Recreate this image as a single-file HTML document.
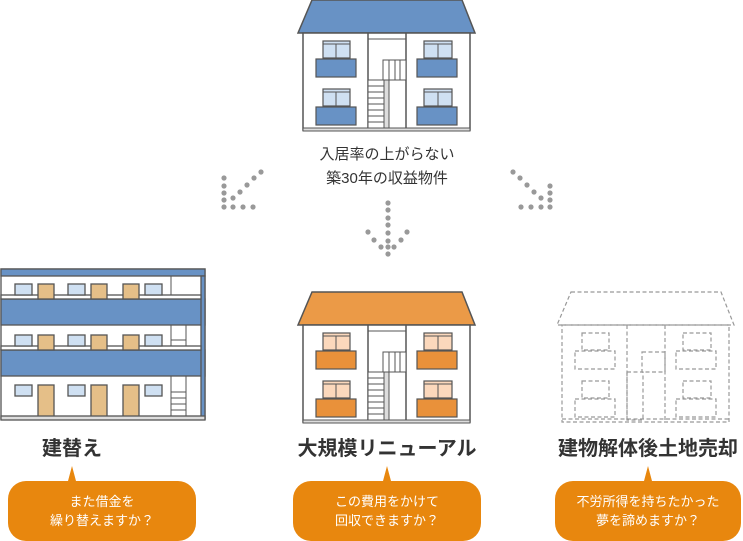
<!DOCTYPE html>
<html><head><meta charset="utf-8"><style>
html,body{margin:0;padding:0;background:#fff;}
svg{display:block;font-family:"Liberation Sans","Noto Sans CJK JP",sans-serif;}
</style></head><body>
<svg width="743" height="541" viewBox="0 0 743 541" xmlns="http://www.w3.org/2000/svg">
<defs>
<g id="house">
  <polygon points="312,0 462,0 475,33 298,33" fill="var(--roof)" stroke="#555" stroke-width="1.5"/>
  <rect x="303" y="33" width="167" height="97" fill="#fff" stroke="#555" stroke-width="1.5"/>
  <line x1="368" y1="33" x2="368" y2="130" stroke="#555" stroke-width="1.5"/>
  <line x1="406" y1="33" x2="406" y2="130" stroke="#555" stroke-width="1.5"/>
  <line x1="368" y1="39" x2="406" y2="39" stroke="#555"/>
  <rect x="383" y="60" width="23" height="20" fill="#fff" stroke="#555"/>
  <line x1="389" y1="60" x2="389" y2="80" stroke="#555"/><line x1="395" y1="60" x2="395" y2="80" stroke="#555"/><line x1="400" y1="60" x2="400" y2="80" stroke="#555"/>
  <rect x="368" y="80" width="16" height="48" fill="#fff" stroke="#555"/>
  <g stroke="#555"><line x1="368" y1="86" x2="384" y2="86"/><line x1="368" y1="92" x2="384" y2="92"/><line x1="368" y1="98" x2="384" y2="98"/><line x1="368" y1="104" x2="384" y2="104"/><line x1="368" y1="110" x2="384" y2="110"/><line x1="368" y1="116" x2="384" y2="116"/><line x1="368" y1="122" x2="384" y2="122"/></g>
  <rect x="384" y="80" width="5" height="48" fill="#ddd" stroke="#555"/>
  <g fill="var(--win)" stroke="#555" stroke-width="1.2">
   <rect x="323" y="41" width="27" height="17"/><rect x="424" y="41" width="28" height="17"/>
   <rect x="323" y="89" width="27" height="17"/><rect x="424" y="89" width="28" height="17"/>
  </g>
  <g stroke="#555"><line x1="336" y1="44" x2="336" y2="58"/><line x1="438" y1="44" x2="438" y2="58"/><line x1="336" y1="92" x2="336" y2="106"/><line x1="438" y1="92" x2="438" y2="106"/>
  <line x1="323" y1="44" x2="350" y2="44"/><line x1="424" y1="44" x2="452" y2="44"/><line x1="323" y1="92" x2="350" y2="92"/><line x1="424" y1="92" x2="452" y2="92"/></g>
  <g fill="var(--bal)" stroke="#555" stroke-width="1.2">
   <rect x="316" y="59" width="40" height="18"/><rect x="417" y="59" width="40" height="18"/>
   <rect x="316" y="107" width="40" height="18"/><rect x="417" y="107" width="40" height="18"/>
  </g>
  <rect x="303" y="128" width="167" height="3" fill="#ddd" stroke="#555"/>
</g>
</defs>

<use href="#house" style="--roof:#6892c5;--win:#cfe0f2;--bal:#6892c5"/>
<use href="#house" y="292" style="--roof:#eb9a47;--win:#fbd8bc;--bal:#e9913a"/>

<!-- dashed house -->
<g transform="translate(259,292)" fill="none" stroke="#999" stroke-width="1.2" stroke-dasharray="4,2.5">
  <polygon points="312,0 462,0 475,33 298,33"/>
  <rect x="303" y="33" width="167" height="97"/>
  <line x1="368" y1="33" x2="368" y2="130"/><line x1="406" y1="33" x2="406" y2="130"/>
  <rect x="383" y="60" width="23" height="20"/><rect x="368" y="80" width="16" height="48"/>
  <rect x="323" y="41" width="27" height="17"/><rect x="424" y="41" width="28" height="17"/>
  <rect x="323" y="89" width="27" height="17"/><rect x="424" y="89" width="28" height="17"/>
  <rect x="316" y="59" width="40" height="18"/><rect x="417" y="59" width="40" height="18"/>
  <rect x="316" y="107" width="40" height="18"/><rect x="417" y="107" width="40" height="18"/>
  <line x1="303" y1="127" x2="470" y2="127"/>
</g>

<!-- left apartment -->
<g stroke="#555" stroke-width="1.3">
  <rect x="1" y="269" width="204" height="150" fill="#fff"/>
  <g stroke-width="1"><line x1="171" y1="276" x2="171" y2="419"/><line x1="171" y1="392" x2="186" y2="392"/><line x1="171" y1="398" x2="186" y2="398"/><line x1="171" y1="404" x2="186" y2="404"/><line x1="171" y1="410" x2="186" y2="410"/><line x1="186" y1="376" x2="186" y2="416"/><line x1="186" y1="325" x2="186" y2="346"/><line x1="171" y1="340" x2="186" y2="340"/></g>
  <rect x="1" y="269" width="204" height="7" fill="#6892c5"/>
  <rect x="1" y="299" width="204" height="26" fill="#6892c5"/>
  <rect x="1" y="350" width="204" height="26" fill="#6892c5"/>
  <rect x="201" y="276" width="4" height="143" fill="#6892c5"/>
  <g fill="#fff"><rect x="1" y="295" width="200" height="4"/><rect x="1" y="346" width="200" height="4"/></g>
  <g fill="#cfe0f2">
   <rect x="15" y="284" width="17" height="11"/><rect x="68" y="284" width="17" height="11"/><rect x="145" y="284" width="17" height="11"/>
   <rect x="15" y="335" width="17" height="11"/><rect x="68" y="335" width="17" height="11"/><rect x="145" y="335" width="17" height="11"/>
   <rect x="15" y="385" width="17" height="11"/><rect x="68" y="385" width="17" height="11"/><rect x="145" y="385" width="17" height="11"/>
  </g>
  <g fill="#e5bf88">
   <rect x="38" y="284" width="16" height="15"/><rect x="91" y="284" width="16" height="15"/><rect x="123" y="284" width="16" height="15"/>
   <rect x="38" y="335" width="16" height="15"/><rect x="91" y="335" width="16" height="15"/><rect x="123" y="335" width="16" height="15"/>
   <rect x="38" y="385" width="16" height="34"/><rect x="91" y="385" width="16" height="34"/><rect x="123" y="385" width="16" height="34"/>
  </g>
  <rect x="1" y="416" width="204" height="4" fill="#ddd"/>
</g>

<!-- dotted arrows -->
<g fill="#999">
  <circle cx="261" cy="172" r="2.6"/><circle cx="254" cy="178" r="2.6"/><circle cx="247" cy="185" r="2.6"/><circle cx="240" cy="192" r="2.6"/><circle cx="233" cy="198" r="2.6"/>
  <circle cx="224" cy="178" r="2.6"/><circle cx="224" cy="186" r="2.6"/><circle cx="224" cy="193" r="2.6"/><circle cx="224" cy="200" r="2.6"/>
  <circle cx="224" cy="207" r="2.6"/><circle cx="233" cy="207" r="2.6"/><circle cx="243" cy="207" r="2.6"/><circle cx="253" cy="207" r="2.6"/>
  <circle cx="513" cy="172" r="2.6"/><circle cx="520" cy="178" r="2.6"/><circle cx="527" cy="185" r="2.6"/><circle cx="534" cy="192" r="2.6"/><circle cx="541" cy="198" r="2.6"/>
  <circle cx="550" cy="186" r="2.6"/><circle cx="550" cy="193" r="2.6"/><circle cx="550" cy="200" r="2.6"/>
  <circle cx="550" cy="207" r="2.6"/><circle cx="541" cy="207" r="2.6"/><circle cx="531" cy="207" r="2.6"/><circle cx="521" cy="207" r="2.6"/>
  <circle cx="388" cy="203" r="2.6"/><circle cx="388" cy="210" r="2.6"/><circle cx="388" cy="218" r="2.6"/><circle cx="388" cy="225" r="2.6"/><circle cx="388" cy="233" r="2.6"/><circle cx="388" cy="241" r="2.6"/><circle cx="388" cy="247" r="2.6"/><circle cx="388" cy="254" r="2.6"/>
  <circle cx="368" cy="232" r="2.6"/><circle cx="407" cy="232" r="2.6"/><circle cx="374" cy="240" r="2.6"/><circle cx="401" cy="240" r="2.6"/><circle cx="381" cy="247" r="2.6"/><circle cx="394" cy="247" r="2.6"/>
</g>

<g fill="#333" font-size="15" text-anchor="middle">
  <text x="387" y="159">入居率の上がらない</text>
  <text x="387" y="183">築30年の収益物件</text>
</g>
<g fill="#333" font-size="20" text-anchor="middle" font-weight="bold">
  <text x="72" y="455">建替え</text>
  <text x="387" y="455">大規模リニューアル</text>
  <text x="648" y="455">建物解体後土地売却</text>
</g>

<g fill="#e8870e">
  <rect x="8" y="481" width="188" height="60" rx="18"/><polygon points="68,481 72,466 76,481"/>
  <rect x="293" y="481" width="188" height="60" rx="18"/><polygon points="383,481 387,466 391,481"/>
  <rect x="555" y="481" width="186" height="60" rx="18"/><polygon points="644,481 648,466 652,481"/>
</g>
<g fill="#fff" font-size="13" text-anchor="middle">
  <text x="102" y="506">また借金を</text><text x="102" y="525">繰り替えますか？</text>
  <text x="387" y="506">この費用をかけて</text><text x="387" y="525">回収できますか？</text>
  <text x="648" y="506">不労所得を持ちたかった</text><text x="648" y="525">夢を諦めますか？</text>
</g>
</svg>
</body></html>
